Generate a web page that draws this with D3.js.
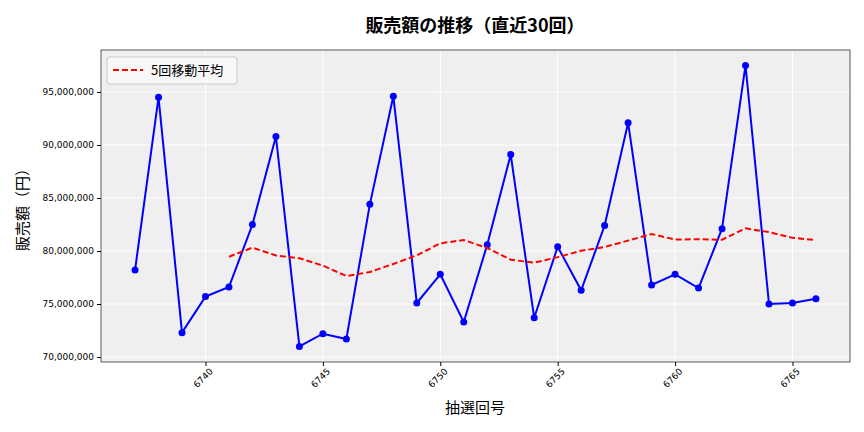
<!DOCTYPE html><html><head><meta charset="utf-8">
<script src="https://cdn.jsdelivr.net/npm/d3@7"></script>
<style>body{margin:0;background:#fff;font-family:"Noto Sans CJK JP","DejaVu Sans",sans-serif}</style></head><body>
<svg id="c" width="864" height="432"></svg>
<script>
const draws=d3.range(6737,6767);
const sales=[78.2,94.5,72.3,75.7,76.6,82.5,90.8,71.0,72.2,71.7,84.4,94.6,75.1,77.8,73.3,80.6,89.1,73.7,80.4,76.3,82.4,92.1,76.8,77.8,76.5,82.1,97.5,75.0,75.1,75.5].map(v=>v*1e6);
const xTicks=[6740,6745,6750,6755,6760,6765];
const yTicks=[70e6,75e6,80e6,85e6,90e6,95e6];
const ma=sales.map((v,i)=>i<4?null:d3.mean(sales.slice(i-4,i+1)));
const svg=d3.select("#c");
const L=101,R=850,T=50,B=362;
const x=d3.scaleLinear().domain([6735.55,6767.45]).range([L,R]);
const y=d3.scaleLinear().domain([69.53e6,98.96e6]).range([B,T]);
svg.append("rect").attr("x",L).attr("y",T).attr("width",R-L).attr("height",B-T).attr("fill","#efefef");
const g=svg.append("g");
xTicks.forEach(t=>g.append("line").attr("x1",x(t)).attr("x2",x(t)).attr("y1",T).attr("y2",B).attr("stroke","#fff"));
yTicks.forEach(t=>g.append("line").attr("x1",L).attr("x2",R).attr("y1",y(t)).attr("y2",y(t)).attr("stroke","#fff"));
svg.append("rect").attr("x",L).attr("y",T).attr("width",R-L).attr("height",B-T).attr("fill","none").attr("stroke","#333").attr("stroke-width",0.8);
const xa=svg.append("g").attr("transform",`translate(0,${B})`).call(d3.axisBottom(x).tickValues(xTicks).tickFormat(d3.format("d")).tickSize(4));
xa.select(".domain").remove();
xa.selectAll("text").attr("transform","rotate(-45)").attr("text-anchor","end").attr("dx","-0.2em").attr("dy","0.6em").attr("font-size",9).attr("font-family","DejaVu Sans");
const ya=svg.append("g").attr("transform",`translate(${L},0)`).call(d3.axisLeft(y).tickValues(yTicks).tickFormat(d3.format(",")).tickSize(4));
ya.select(".domain").remove();
ya.selectAll("text").attr("font-size",9).attr("font-family","DejaVu Sans");
const line=d3.line().x((d,i)=>x(draws[i])).y(d=>y(d));
svg.append("path").datum(sales).attr("d",line).attr("fill","none").attr("stroke","#0000ff").attr("stroke-width",2);
svg.selectAll(".pt").data(sales).join("circle").attr("cx",(d,i)=>x(draws[i])).attr("cy",d=>y(d)).attr("r",3.5).attr("fill","#0000ff");
svg.append("path").datum(ma).attr("d",line.defined(d=>d!=null)).attr("fill","none").attr("stroke","#ff0000").attr("stroke-width",2).attr("stroke-dasharray","6,3");
svg.append("rect").attr("x",107).attr("y",57).attr("width",130).attr("height",27).attr("fill","#f7f7f7").attr("stroke","#ccc").attr("rx",3);
svg.append("line").attr("x1",113).attr("x2",143).attr("y1",70).attr("y2",70).attr("stroke","#ff0000").attr("stroke-width",2).attr("stroke-dasharray","6,3");
svg.append("text").attr("x",151).attr("y",75).attr("font-size",13).text("5回移動平均");
svg.append("text").attr("x",475).attr("y",32).attr("text-anchor","middle").attr("font-size",18).attr("font-weight","bold").text("販売額の推移（直近30回）");
svg.append("text").attr("x",475).attr("y",413).attr("text-anchor","middle").attr("font-size",15).text("抽選回号");
svg.append("text").attr("transform",`translate(28,${(T+B)/2}) rotate(-90)`).attr("text-anchor","middle").attr("font-size",15).text("販売額（円）");
</script></body></html>
